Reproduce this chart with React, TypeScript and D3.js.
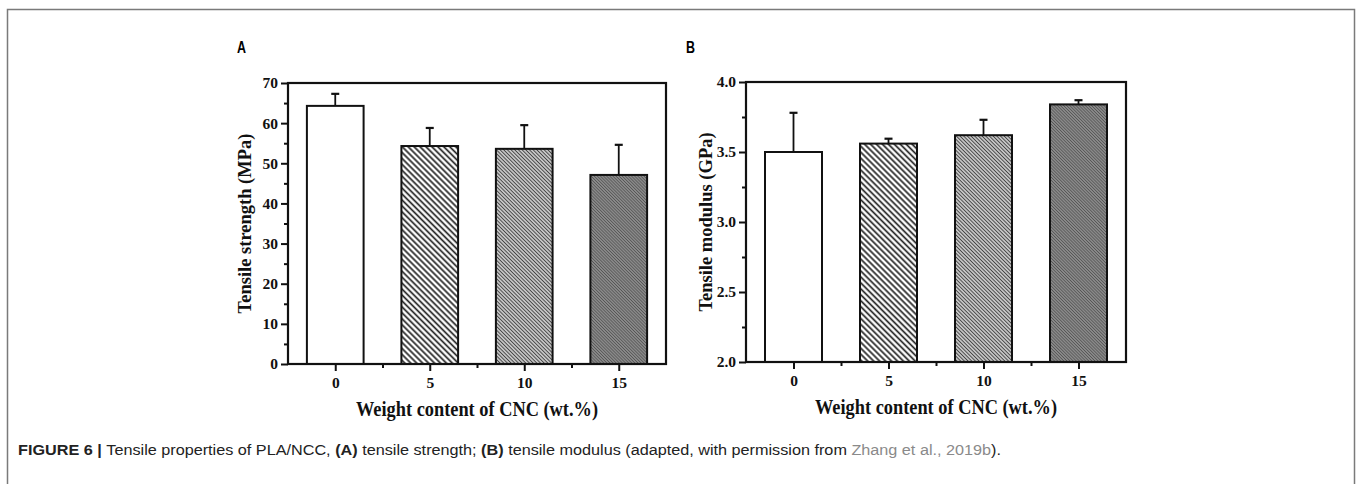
import React, { useRef, useEffect } from 'react';
import * as d3 from 'd3';

// CNC loading (wt.%)
const categories = [0, 5, 10, 15];
const xTickValues = [0, 5, 10, 15];
const xMinorTicks = [2.5, 7.5, 12.5];

// Panel A: tensile strength (MPa)
const strengthMean = [64.3, 54.3, 53.6, 47.1];
const strengthErr = [3.0, 4.5, 5.9, 7.5];
const strengthTicks = [0, 10, 20, 30, 40, 50, 60, 70];
const strengthMinor = [5, 15, 25, 35, 45, 55, 65];

// Panel B: tensile modulus (GPa)
const modulusMean = [3.5, 3.56, 3.62, 3.84];
const modulusErr = [0.28, 0.035, 0.11, 0.03];
const modulusTicks = [2.0, 2.5, 3.0, 3.5, 4.0];
const modulusMinor = [2.25, 2.75, 3.25, 3.75];

const fills = ['#ffffff', 'url(#hatchA)', 'url(#hatchB)', 'url(#hatchC)'];

const serif = '"Liberation Serif", "Times New Roman", serif';
const sans = '"Liberation Sans", Arial, sans-serif';

interface PanelSpec {
  left: number;
  top: number;
  width: number;
  height: number;
  means: number[];
  errs: number[];
  yDomain: [number, number];
  yTicks: number[];
  yMinor: number[];
  yFormat: (d: number) => string;
  yLabel: string;
  yLabelX: number;
  letter: string;
  letterX: number;
}

const panels: PanelSpec[] = [
  {
    left: 288, top: 83, width: 378, height: 281,
    means: strengthMean, errs: strengthErr,
    yDomain: [0, 70], yTicks: strengthTicks, yMinor: strengthMinor,
    yFormat: (d) => `${d}`,
    yLabel: 'Tensile strength (MPa)', yLabelX: 245,
    letter: 'A', letterX: 237,
  },
  {
    left: 746, top: 82, width: 380, height: 280,
    means: modulusMean, errs: modulusErr,
    yDomain: [2, 4], yTicks: modulusTicks, yMinor: modulusMinor,
    yFormat: (d) => d3.format('.1f')(d),
    yLabel: 'Tensile modulus (GPa)', yLabelX: 706,
    letter: 'B', letterX: 686,
  },
];

const App: React.FC = () => {
  const svgRef = useRef<SVGSVGElement | null>(null);

  useEffect(() => {
    if (!svgRef.current) return;
    const root = d3.select(svgRef.current);
    root.selectAll('*').remove();

    // hatch patterns
    const defs = root.append('defs');
    const hatch = (id: string, size: number, bg: string, fg: string, sw: number) => {
      const p = defs
        .append('pattern')
        .attr('id', id)
        .attr('patternUnits', 'userSpaceOnUse')
        .attr('width', size)
        .attr('height', size)
        .attr('patternTransform', 'rotate(-45)');
      p.append('rect').attr('width', size).attr('height', size).attr('fill', bg);
      p.append('line')
        .attr('x1', size / 2).attr('x2', size / 2)
        .attr('y1', 0).attr('y2', size)
        .attr('stroke', fg)
        .attr('stroke-width', sw);
    };
    hatch('hatchA', 4.2, '#ffffff', '#222', 1.7);
    hatch('hatchB', 2.6, '#d8d8d8', '#444', 1.1);
    hatch('hatchC', 2.2, '#949494', '#555', 1.0);

    // outer frame
    root.append('rect')
      .attr('x', 7.5).attr('y', 9.5)
      .attr('width', 1347).attr('height', 500)
      .attr('fill', 'none')
      .attr('stroke', '#7a7a7a')
      .attr('stroke-width', 1.5);

    panels.forEach((p) => {
      const g = root.append('g').attr('transform', `translate(${p.left},${p.top})`);

      const x = d3.scaleLinear().domain([-2.5, 17.5]).range([0, p.width]);
      const y = d3.scaleLinear().domain(p.yDomain).range([p.height, 0]);

      // bars
      g.selectAll('.bar')
        .data(categories)
        .enter()
        .append('rect')
        .attr('x', (d) => x(d - 1.5))
        .attr('width', (d) => x(d + 1.5) - x(d - 1.5))
        .attr('y', (_d, i) => y(p.means[i]))
        .attr('height', (_d, i) => y(p.yDomain[0]) - y(p.means[i]))
        .attr('fill', (_d, i) => fills[i])
        .attr('stroke', '#111')
        .attr('stroke-width', 2);

      // error bars (upper only)
      const eb = g.selectAll('.err').data(categories).enter().append('g');
      eb.append('line')
        .attr('x1', (d) => x(d)).attr('x2', (d) => x(d))
        .attr('y1', (_d, i) => y(p.means[i]))
        .attr('y2', (_d, i) => y(p.means[i] + p.errs[i]))
        .attr('stroke', '#111').attr('stroke-width', 1.8);
      eb.append('line')
        .attr('x1', (d) => x(d) - 4).attr('x2', (d) => x(d) + 4)
        .attr('y1', (_d, i) => y(p.means[i] + p.errs[i]))
        .attr('y2', (_d, i) => y(p.means[i] + p.errs[i]))
        .attr('stroke', '#111').attr('stroke-width', 2.2);

      // axes
      const xAxis = g.append('g')
        .attr('transform', `translate(0,${p.height})`)
        .call(d3.axisBottom(x).tickValues(xTickValues).tickSize(7).tickPadding(6).tickFormat((d) => `${d}`));
      g.append('g')
        .attr('transform', `translate(0,${p.height})`)
        .call(d3.axisBottom(x).tickValues(xMinorTicks).tickSize(4).tickFormat(() => ''))
        .select('.domain').remove();
      const yAxis = g.append('g')
        .call(d3.axisLeft(y).tickValues(p.yTicks).tickSize(7).tickPadding(3).tickFormat((d) => p.yFormat(d as number)));
      g.append('g')
        .call(d3.axisLeft(y).tickValues(p.yMinor).tickSize(4).tickFormat(() => ''))
        .select('.domain').remove();

      [xAxis, yAxis].forEach((a) => {
        a.select('.domain').remove();
        a.selectAll('text')
          .attr('font-family', serif)
          .attr('font-weight', 'bold')
          .attr('font-size', 15.5)
          .attr('fill', '#111');
      });
      g.selectAll('.tick line').attr('stroke', '#111').attr('stroke-width', 2);

      // plot box
      g.append('rect')
        .attr('width', p.width).attr('height', p.height)
        .attr('fill', 'none')
        .attr('stroke', '#111')
        .attr('stroke-width', 2.2);

      // axis titles
      g.append('text')
        .attr('x', p.width / 2)
        .attr('y', p.height + 52)
        .attr('text-anchor', 'middle')
        .attr('font-family', serif)
        .attr('font-weight', 'bold')
        .attr('font-size', 20.5)
        .attr('textLength', 242)
        .attr('lengthAdjust', 'spacingAndGlyphs')
        .attr('fill', '#111')
        .text('Weight content of CNC (wt.%)');

      root.append('text')
        .attr('transform', `translate(${p.yLabelX + 6},${p.top + p.height / 2}) rotate(-90)`)
        .attr('text-anchor', 'middle')
        .attr('font-family', serif)
        .attr('font-weight', 'bold')
        .attr('font-size', 18.5)
        .attr('fill', '#111')
        .text(p.yLabel);

      // panel letter
      root.append('text')
        .attr('x', p.letterX)
        .attr('y', 53)
        .attr('font-family', sans)
        .attr('font-weight', 'bold')
        .attr('font-size', 16)
        .attr('textLength', 9)
        .attr('lengthAdjust', 'spacingAndGlyphs')
        .attr('fill', '#000')
        .text(p.letter);
    });

    // caption
    const cap = root.append('text')
      .attr('x', 18)
      .attr('y', 455)
      .attr('font-family', sans)
      .attr('font-size', 15.5)
      .attr('textLength', 983)
      .attr('lengthAdjust', 'spacingAndGlyphs')
      .attr('fill', '#222');
    cap.append('tspan').attr('font-weight', 'bold').text('FIGURE 6 | ');
    cap.append('tspan').text('Tensile properties of PLA/NCC, ');
    cap.append('tspan').attr('font-weight', 'bold').text('(A)');
    cap.append('tspan').text(' tensile strength; ');
    cap.append('tspan').attr('font-weight', 'bold').text('(B)');
    cap.append('tspan').text(' tensile modulus (adapted, with permission from ');
    cap.append('tspan').attr('fill', '#8a8a8a').text('Zhang et al., 2019b');
    cap.append('tspan').text(').');
  }, []);

  return (
    <svg
      ref={svgRef}
      width={1358}
      height={484}
      style={{ position: 'absolute', left: 0, top: 0, background: '#fff' }}
    />
  );
};

export default App;
